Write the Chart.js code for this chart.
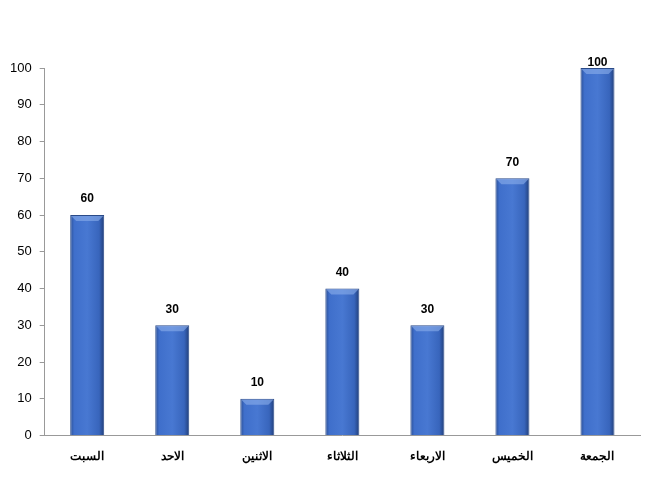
<!DOCTYPE html>
<html>
<head>
<meta charset="utf-8">
<script src="https://cdn.jsdelivr.net/npm/chart.js@4"></script>
<style>
  html, body { margin: 0; padding: 0; background: #fff; }
  #wrap { width: 664px; height: 489px; }
</style>
</head>
<body>
<div id="wrap"><canvas id="dayChart" width="664" height="489"></canvas></div>
<script>
const days = ['السبت', 'الاحد', 'الاثنين', 'الثلاثاء', 'الاربعاء', 'الخميس', 'الجمعة'];
const counts = [60, 30, 10, 40, 30, 70, 100];
const yTicks = [0, 10, 20, 30, 40, 50, 60, 70, 80, 90, 100];

const barFrac = 0.4;

// horizontal gradient so the bars look rounded like the original
function barFill(context) {
  const chart = context.chart;
  const xs = chart.scales.x;
  if (!xs || context.dataIndex === undefined) return '#3d6cc4';
  const cx = xs.getPixelForValue(context.dataIndex);
  const w = (xs.width / days.length) * barFrac;
  if (!isFinite(cx) || !isFinite(w) || w <= 0) return '#3d6cc4';
  const g = chart.ctx.createLinearGradient(cx - w / 2, 0, cx + w / 2, 0);
  g.addColorStop(0, '#2b4f95');
  g.addColorStop(0.12, '#3f6fcb');
  g.addColorStop(0.5, '#4878d2');
  g.addColorStop(0.85, '#3865bc');
  g.addColorStop(1, '#213e78');
  return g;
}

const valueLabels = {
  id: 'valueLabels',
  afterDatasetsDraw(chart) {
    const ctx = chart.ctx;
    const meta = chart.getDatasetMeta(0);
    ctx.save();
    // light bevel on top of each bar
    meta.data.forEach((bar) => {
      const l = bar.x - bar.width / 2 + 1, r = bar.x + bar.width / 2 - 1;
      ctx.fillStyle = 'rgba(140, 175, 235, 0.6)';
      ctx.beginPath();
      ctx.moveTo(l, bar.y + 1);
      ctx.lineTo(r, bar.y + 1);
      ctx.lineTo(r - 5, bar.y + 6);
      ctx.lineTo(l + 5, bar.y + 6);
      ctx.closePath();
      ctx.fill();
    });
    ctx.font = 'bold 12px "Liberation Sans", Arial, sans-serif';
    ctx.fillStyle = '#000';
    ctx.textAlign = 'center';
    ctx.textBaseline = 'middle';
    meta.data.forEach((bar, i) => {
      const y = Math.max(bar.y - 16, chart.chartArea.top - 5);
      ctx.fillText(counts[i], bar.x, y);
    });
    ctx.restore();
  }
};

new Chart(document.getElementById('dayChart'), {
  type: 'bar',
  data: {
    labels: days,
    datasets: [{
      data: counts,
      backgroundColor: barFill,
      borderColor: '#2a4a88',
      borderWidth: 1,
      categoryPercentage: 1,
      barPercentage: barFrac,
    }]
  },
  options: {
    responsive: false,
    animation: false,
    layout: { padding: { top: 68, left: 2, right: 24, bottom: 19 } },
    plugins: {
      legend: { display: false },
      tooltip: { enabled: false },
    },
    scales: {
      x: {
        grid: { display: false },
        border: { display: true, color: '#999' },
        ticks: {
          color: '#000',
          padding: 6,
          font: { family: '"Liberation Sans", Arial, sans-serif', size: 12, weight: 'bold' },
        },
      },
      y: {
        min: 0,
        max: 100,
        afterBuildTicks(axis) { axis.ticks = yTicks.map(v => ({ value: v })); },
        grid: { drawOnChartArea: false, tickLength: 5, color: '#999' },
        border: { display: true, color: '#999' },
        ticks: {
          color: '#000',
          padding: 8,
          font: { family: '"Liberation Sans", Arial, sans-serif', size: 13 },
        },
      },
    },
  },
  plugins: [valueLabels],
});
</script>
</body>
</html>
